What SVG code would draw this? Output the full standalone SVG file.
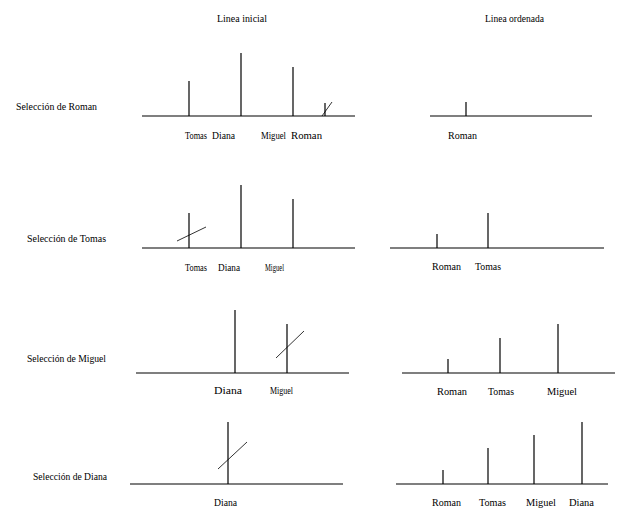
<svg xmlns="http://www.w3.org/2000/svg" width="618" height="520" viewBox="0 0 618 520">
<style>
text{font-family:'Liberation Serif','DejaVu Serif','Times New Roman',serif;font-size:11px;fill:#000;}
.l{stroke:#000;stroke-width:1.2;fill:none;}
.s{stroke:#000;stroke-width:0.8;fill:none;}
</style>
<rect width="618" height="520" fill="#fff"/>
<g id="headers">
<text x="217" y="22" textLength="50" lengthAdjust="spacingAndGlyphs">Linea inicial</text>
<text x="485" y="22" textLength="59" lengthAdjust="spacingAndGlyphs">Linea ordenada</text>
</g>
<g id="row-labels">
<text x="16" y="110" textLength="81" lengthAdjust="spacingAndGlyphs">Selección de Roman</text>
<text x="27" y="242" textLength="79" lengthAdjust="spacingAndGlyphs">Selección de Tomas</text>
<text x="27" y="362" textLength="79" lengthAdjust="spacingAndGlyphs">Selección de Miguel</text>
<text x="33" y="480" textLength="74" lengthAdjust="spacingAndGlyphs">Selección de Diana</text>
</g>
<g id="row1-inicial">
<line class="l" x1="142" y1="116" x2="355" y2="116"/>
<line class="l" x1="189" y1="116" x2="189" y2="81"/>
<line class="l" x1="241" y1="116" x2="241" y2="53"/>
<line class="l" x1="293" y1="116" x2="293" y2="67"/>
<line class="l" x1="325" y1="116" x2="325" y2="103"/>
<line class="s" x1="322" y1="116" x2="332" y2="102"/>
<text x="185" y="139" textLength="22" lengthAdjust="spacingAndGlyphs">Tomas</text>
<text x="212" y="139" textLength="23" lengthAdjust="spacingAndGlyphs">Diana</text>
<text x="261" y="139" textLength="25" lengthAdjust="spacingAndGlyphs">Miguel</text>
<text x="291" y="139" textLength="31" lengthAdjust="spacingAndGlyphs">Roman</text>
</g>
<g id="row1-ordenada">
<line class="l" x1="430" y1="116" x2="592" y2="116"/>
<line class="l" x1="466" y1="116" x2="466" y2="102"/>
<text x="448" y="139" textLength="29" lengthAdjust="spacingAndGlyphs">Roman</text>
</g>
<g id="row2-inicial">
<line class="l" x1="142" y1="248" x2="355" y2="248"/>
<line class="l" x1="189" y1="248" x2="189" y2="213"/>
<line class="s" x1="177" y1="241" x2="206" y2="227"/>
<line class="l" x1="241" y1="248" x2="241" y2="185"/>
<line class="l" x1="293" y1="248" x2="293" y2="199"/>
<text x="185" y="271" textLength="22" lengthAdjust="spacingAndGlyphs">Tomas</text>
<text x="218" y="271" textLength="22" lengthAdjust="spacingAndGlyphs">Diana</text>
<text x="265" y="271" textLength="19" lengthAdjust="spacingAndGlyphs">Miguel</text>
</g>
<g id="row2-ordenada">
<line class="l" x1="390" y1="248" x2="604" y2="248"/>
<line class="l" x1="437" y1="248" x2="437" y2="234"/>
<line class="l" x1="488" y1="248" x2="488" y2="213"/>
<text x="432" y="270" textLength="29" lengthAdjust="spacingAndGlyphs">Roman</text>
<text x="475" y="270" textLength="26" lengthAdjust="spacingAndGlyphs">Tomas</text>
</g>
<g id="row3-inicial">
<line class="l" x1="136" y1="373" x2="349" y2="373"/>
<line class="l" x1="235" y1="373" x2="235" y2="310"/>
<line class="l" x1="287" y1="373" x2="287" y2="324"/>
<line class="s" x1="276" y1="358" x2="304" y2="331"/>
<text x="214" y="394" textLength="28" lengthAdjust="spacingAndGlyphs">Diana</text>
<text x="270" y="394" textLength="23" lengthAdjust="spacingAndGlyphs">Miguel</text>
</g>
<g id="row3-ordenada">
<line class="l" x1="402" y1="373" x2="615" y2="373"/>
<line class="l" x1="448" y1="373" x2="448" y2="359"/>
<line class="l" x1="500" y1="373" x2="500" y2="338"/>
<line class="l" x1="558" y1="373" x2="558" y2="324"/>
<text x="437" y="395" textLength="30" lengthAdjust="spacingAndGlyphs">Roman</text>
<text x="488" y="395" textLength="26" lengthAdjust="spacingAndGlyphs">Tomas</text>
<text x="547" y="395" textLength="30" lengthAdjust="spacingAndGlyphs">Miguel</text>
</g>
<g id="row4-inicial">
<line class="l" x1="130" y1="484" x2="343" y2="484"/>
<line class="l" x1="228" y1="484" x2="228" y2="422"/>
<line class="s" x1="218" y1="469" x2="247" y2="442"/>
<text x="214" y="506" textLength="23" lengthAdjust="spacingAndGlyphs">Diana</text>
</g>
<g id="row4-ordenada">
<line class="l" x1="396" y1="484" x2="608" y2="484"/>
<line class="l" x1="443" y1="484" x2="443" y2="470"/>
<line class="l" x1="488" y1="484" x2="488" y2="448"/>
<line class="l" x1="534" y1="484" x2="534" y2="435"/>
<line class="l" x1="582" y1="484" x2="582" y2="422"/>
<text x="432" y="506" textLength="29" lengthAdjust="spacingAndGlyphs">Roman</text>
<text x="479" y="506" textLength="27" lengthAdjust="spacingAndGlyphs">Tomas</text>
<text x="526" y="506" textLength="30" lengthAdjust="spacingAndGlyphs">Miguel</text>
<text x="569" y="506" textLength="25" lengthAdjust="spacingAndGlyphs">Diana</text>
</g>
</svg>
